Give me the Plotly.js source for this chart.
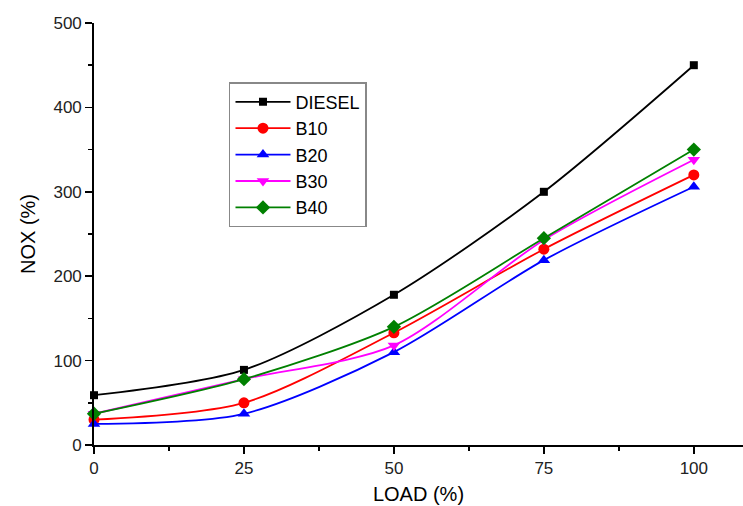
<!DOCTYPE html>
<html><head><meta charset="utf-8">
<script src="https://cdn.plot.ly/plotly-3.0.1.min.js"></script>
<style>body{margin:0;background:#fff}#c{width:743px;height:506px}</style>
</head><body><div id="c"></div>
<script>
const load = [0, 25, 50, 75, 100];
const diesel = [59, 89, 178, 300, 450];
const b10 = [30, 50, 133, 232, 320];
const b20 = [25, 37, 110, 219, 306];
const b30 = [37, 78, 118, 243, 338];
const b40 = [37, 78, 140, 245, 350];
const names = ['DIESEL', 'B10', 'B20', 'B30', 'B40'];
const series = [diesel, b10, b20, b30, b40];
const colors = ['#000000', '#ff0000', '#0000ff', '#ff00ff', '#008000'];
const symbols = ['square', 'circle', 'triangle-up', 'triangle-down', 'diamond'];
const sizes = [8, 11, 11, 11, 11];

const traces = series.map((s, i) => ({
  x: load, y: s, name: names[i], type: 'scatter', mode: 'lines+markers',
  line: {color: colors[i], width: 1.8, shape: 'spline', smoothing: 0.8},
  marker: {color: colors[i], symbol: symbols[i], size: sizes[i]},
  cliponaxis: false
}));

const fam = 'Liberation Sans, Arial, sans-serif';
const tickFont = {family: fam, size: 17, color: '#222'};
Plotly.newPlot('c', traces, {
  width: 743, height: 506,
  margin: {l: 94, r: 0, t: 23, b: 61},
  paper_bgcolor: '#fff', plot_bgcolor: '#fff',
  font: {family: fam},
  showlegend: true,
  legend: {x: 0.208, y: 0.86, xanchor: 'left', yanchor: 'top',
    bordercolor: '#888', borderwidth: 1.5, bgcolor: '#fff',
    font: {family: fam, size: 18, color: '#000'},
    tracegroupgap: 0, itemwidth: 55},
  xaxis: {range: [0, 108.2], tickvals: [0, 25, 50, 75, 100], showgrid: false, zeroline: false,
    showline: true, linecolor: '#000', linewidth: 1.8, ticks: 'outside', ticklen: 7, tickwidth: 1.5, tickcolor: '#000',
    minor: {dtick: 12.5, tick0: 0, ticks: 'outside', ticklen: 4, tickwidth: 1.5, tickcolor: '#000', showgrid: false},
    tickfont: tickFont,
    title: {text: 'LOAD (%)', font: {family: fam, size: 20, color: '#000'}, standoff: 10}},
  yaxis: {range: [0, 500], dtick: 100, showgrid: false, zeroline: false,
    showline: true, linecolor: '#000', linewidth: 1.8, ticks: 'outside', ticklen: 7, tickwidth: 1.5, tickcolor: '#000',
    minor: {dtick: 50, ticks: 'outside', ticklen: 4, tickwidth: 1.5, tickcolor: '#000', showgrid: false},
    tickfont: tickFont,
    title: {text: 'NOX (%)', font: {family: fam, size: 20, color: '#000'}, standoff: 12}}
}, {displayModeBar: false, staticPlot: true});
</script></body></html>
